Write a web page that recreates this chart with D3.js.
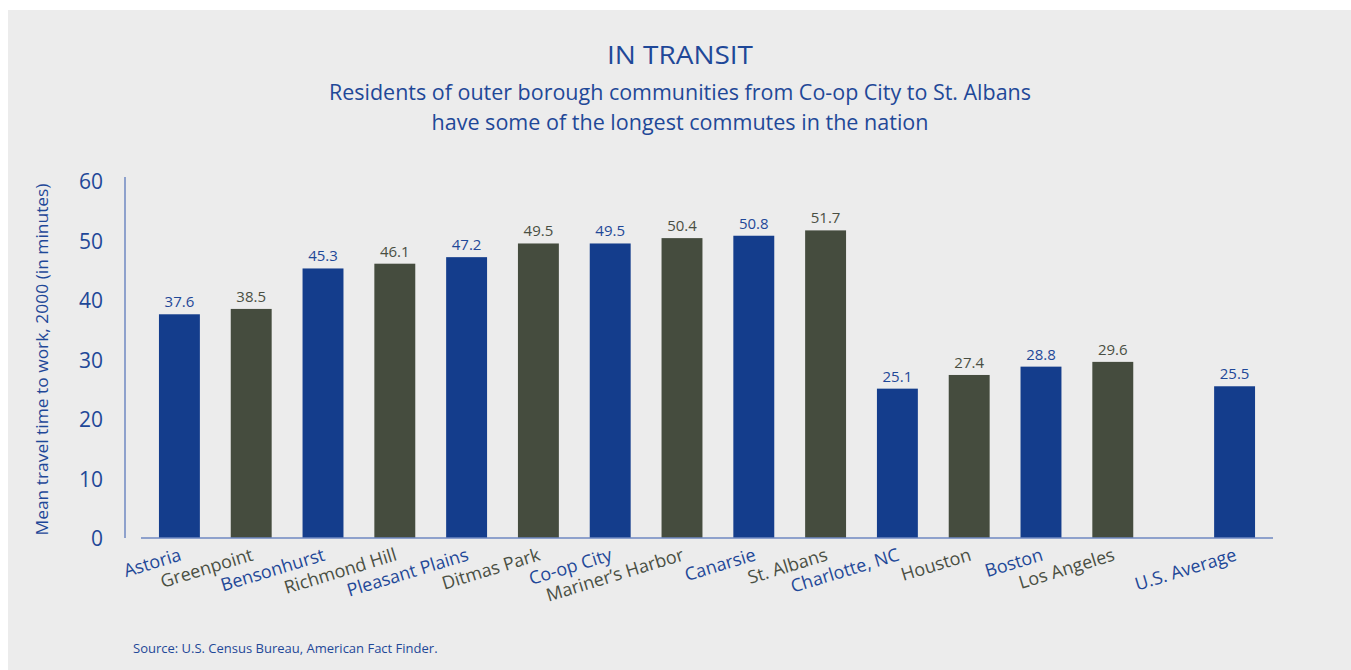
<!DOCTYPE html>
<html>
<head>
<meta charset="utf-8">
<script src="https://cdn.jsdelivr.net/npm/d3@7"></script>
<style>
  body { margin: 0; background: #fff; }
  text { font-family: "Open Sans", "Noto Sans", sans-serif; }
</style>
</head>
<body>
<div id="chart"></div>
<script>
// data
const places = ["Astoria", "Greenpoint", "Bensonhurst", "Richmond Hill", "Pleasant Plains",
  "Ditmas Park", "Co-op City", "Mariner\u2019s Harbor", "Canarsie", "St. Albans",
  "Charlotte, NC", "Houston", "Boston", "Los Angeles", "U.S. Average"];
const minutes = [37.6, 38.5, 45.3, 46.1, 47.2, 49.5, 49.5, 50.4, 50.8, 51.7, 25.1, 27.4, 28.8, 29.6, 25.5];
const yTicks = [0, 10, 20, 30, 40, 50, 60];

const blue = "#143d8c", dark = "#454c3e";
const blueText = "#1f4898", darkText = "#4a4f43";
const axisCol = "#6f88c2";

const W = 1351, H = 670;
const svg = d3.select("#chart").append("svg")
    .attr("width", W).attr("height", H);

// gray panel
svg.append("rect").attr("x", 8).attr("y", 10)
    .attr("width", W - 8).attr("height", H - 10).attr("fill", "#ececec");

// titles
svg.append("text").attr("x", 680).attr("y", 64).attr("text-anchor", "middle")
    .attr("fill", blueText).style("font-size", "26px")
    .attr("textLength", 146).attr("lengthAdjust", "spacingAndGlyphs")
    .text("IN TRANSIT");
svg.append("text").attr("x", 680).attr("y", 100).attr("text-anchor", "middle")
    .attr("fill", blueText).style("font-size", "21.5px")
    .attr("textLength", 702).attr("lengthAdjust", "spacingAndGlyphs")
    .text("Residents of outer borough communities from Co-op City to St. Albans");
svg.append("text").attr("x", 680).attr("y", 130).attr("text-anchor", "middle")
    .attr("fill", blueText).style("font-size", "21.5px")
    .attr("textLength", 497).attr("lengthAdjust", "spacingAndGlyphs")
    .text("have some of the longest commutes in the nation");

// scales
const axisLeft = 141, axisRight = 1273, groupGap = 50;
const x = d3.scaleBand().domain(places)
    .range([axisLeft, axisRight - groupGap])
    .paddingInner(0.43).paddingOuter(0.25);
const xPos = d => x(d) + (d === "U.S. Average" ? groupGap : 0);

const y = d3.scaleLinear().domain([0, 60]).range([538, 181]);

// y axis
const yAxis = svg.append("g").attr("transform", "translate(125,0)")
    .call(d3.axisLeft(y).tickValues(yTicks).tickSize(0).tickPadding(22));
yAxis.select(".domain").remove();
yAxis.append("line").attr("x1", 0).attr("x2", 0)
    .attr("y1", y(0)).attr("y2", y(60) - 4)
    .attr("stroke", axisCol).attr("stroke-width", 1.5);
yAxis.selectAll(".tick text").attr("fill", blueText)
    .style("font-size", "21px").attr("dy", "0.36em");

svg.append("text")
    .attr("transform", `translate(48,${(y(0) + y(60)) / 2}) rotate(-90)`)
    .attr("text-anchor", "middle").attr("fill", blueText)
    .style("font-size", "16.5px")
    .attr("textLength", 352).attr("lengthAdjust", "spacingAndGlyphs")
    .text("Mean travel time to work, 2000 (in minutes)");

// bars
const colorOf = (d, i) => i % 2 === 0 ? blue : dark;
const textColorOf = (d, i) => i % 2 === 0 ? blueText : darkText;

svg.append("g").selectAll("rect")
    .data(minutes)
    .join("rect")
    .attr("x", (d, i) => xPos(places[i]))
    .attr("y", d => y(d))
    .attr("width", x.bandwidth())
    .attr("height", d => y(0) - y(d))
    .attr("fill", colorOf);

// value labels
svg.append("g").selectAll("text")
    .data(minutes)
    .join("text")
    .attr("x", (d, i) => xPos(places[i]) + x.bandwidth() / 2)
    .attr("y", d => y(d) - 7)
    .attr("text-anchor", "middle")
    .attr("fill", textColorOf)
    .style("font-size", "15px")
    .text(d => d.toFixed(1));

// x axis line
svg.append("line").attr("x1", axisLeft).attr("x2", axisRight)
    .attr("y1", y(0)).attr("y2", y(0))
    .attr("stroke", axisCol).attr("stroke-width", 1.5);

// category labels
svg.append("g").selectAll("text")
    .data(places)
    .join("text")
    .attr("transform", d => `translate(${xPos(d) + x.bandwidth() / 2 + 3},560) rotate(-17)`)
    .attr("text-anchor", "end")
    .attr("fill", (d, i) => textColorOf(d, i))
    .style("font-size", "18px")
    .text(d => d);

// source
svg.append("text").attr("x", 133).attr("y", 653)
    .attr("fill", blueText).style("font-size", "13px")
    .text("Source: U.S. Census Bureau, American Fact Finder.");
</script>
</body>
</html>
